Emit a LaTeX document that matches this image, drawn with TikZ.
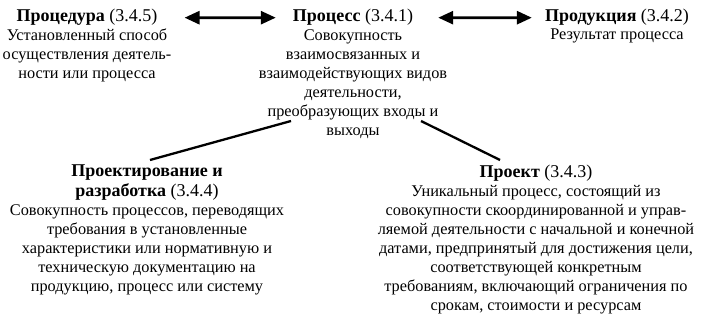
\documentclass[tikz,border=0pt]{standalone}
\usepackage{fontspec}
\setmainfont{Liberation Serif}
\usetikzlibrary{arrows.meta, positioning}

\begin{document}
\begin{tikzpicture}[x=1pt, y=-1pt,
    head/.style={font=\fontsize{18}{20}\selectfont, align=center, inner sep=0pt},
    term/.style={font=\fontsize{16.3}{19}\selectfont, align=center, inner sep=0pt},
    link/.style={{Triangle[length=15pt,width=13pt]}-{Triangle[length=15pt,width=13pt]}, line width=2.8pt},
    tie/.style={line width=2.3pt}]
    \useasboundingbox (0,0) rectangle (715,318);

    % Верхний ряд
    \node[head, anchor=base] (procedure) at (87,22) {\textbf{Процедура} (3.4.5)};
    \node[term, below=3pt of procedure] (procedure-def)
        {Установленный способ\\осуществления деятель-\\ности или процесса};

    \node[head, anchor=base] (process) at (353,22) {\textbf{Процесс} (3.4.1)};
    \node[term, below=3pt of process] (process-def)
        {Совокупность\\взаимосвязанных и\\взаимодействующих видов\\деятельности,\\преобразующих входы и\\выходы};

    \node[head, anchor=base] (product) at (617,22) {\textbf{Продукция} (3.4.2)};
    \node[term, below=3pt of product] (product-def) {Результат процесса};

    % Нижний ряд
    \node[head, anchor=north] (design) at (147,165)
        {\textbf{Проектирование и}\\\textbf{разработка} (3.4.4)};
    \node[term, below=3pt of design] (design-def)
        {Совокупность процессов, переводящих\\требования в установленные\\характеристики или нормативную и\\техническую документацию на\\продукцию, процесс или систему};

    \node[head, anchor=north] (project) at (536,165) {\textbf{Проект} (3.4.3)};
    \node[term, below=3pt of project] (project-def)
        {Уникальный процесс, состоящий из\\совокупности скоординированной и управ-\\ляемой деятельности с начальной и конечной\\датами, предпринятый для достижения цели,\\соответствующей конкретным\\требованиям, включающий ограничения по\\срокам, стоимости и ресурсам};

    % Связи
    \draw[link, shorten <=27pt, shorten >=17pt] (procedure) -- (process);
    \draw[link, shorten <=25pt, shorten >=13pt] (process) -- (product);

    \coordinate (tie-left) at (291,121);
    \coordinate (tie-right) at (421,121);
    \draw[tie] (tie-left) -- ([xshift=3pt, yshift=5pt]design.north);
    \draw[tie] (tie-right) -- ([xshift=-36pt, yshift=5pt]project.north);
\end{tikzpicture}
\end{document}
